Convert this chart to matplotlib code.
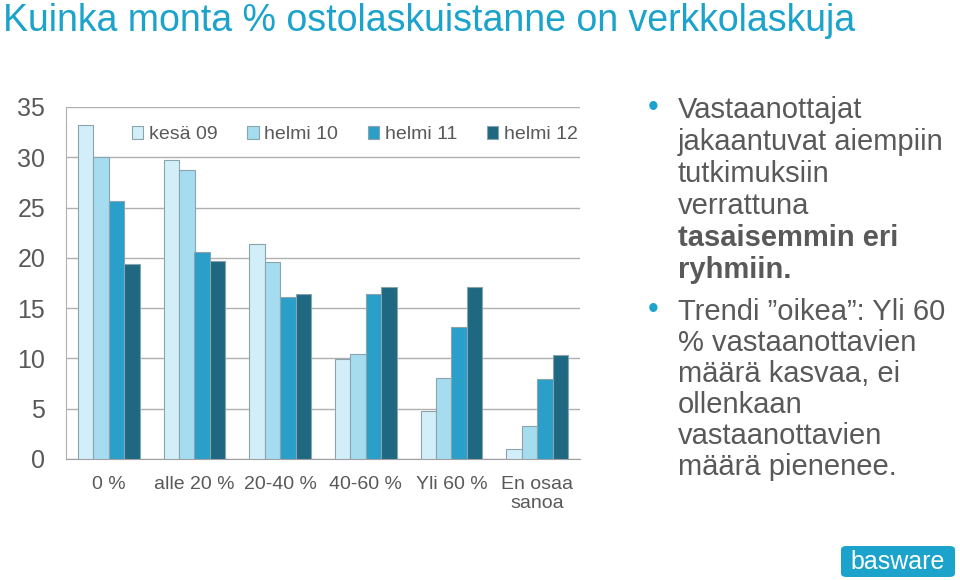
import numpy as np
import matplotlib.pyplot as plt
from matplotlib.patches import FancyBboxPatch

plt.rcParams['font.family'] = ['Liberation Sans', 'DejaVu Sans']

# categories and series
categories = ['0 %', 'alle 20 %', '20-40 %', '40-60 %', 'Yli 60 %', 'En osaa\nsanoa']
series_names = ['kesä 09', 'helmi 10', 'helmi 11', 'helmi 12']
kesa09 = [33.2, 29.7, 21.4, 9.9, 4.8, 1.0]
helmi10 = [30.0, 28.7, 19.6, 10.4, 8.1, 3.3]
helmi11 = [25.7, 20.6, 16.1, 16.4, 13.1, 8.0]
helmi12 = [19.4, 19.7, 16.4, 17.1, 17.1, 10.3]
colors = ['#d2eff9', '#a6dcf0', '#2a9fca', '#1e6882']

title = 'Kuinka monta % ostolaskuistanne on verkkolaskuja'
bullet1 = ['Vastaanottajat', 'jakaantuvat aiempiin', 'tutkimuksiin', 'verrattuna']
bullet1_bold = ['tasaisemmin eri', 'ryhmiin.']
bullet2 = ['Trendi \u201doikea\u201d: Yli 60', '% vastaanottavien', 'määrä kasvaa, ei',
           'ollenkaan', 'vastaanottavien', 'määrä pienenee.']

grey = '#595959'
blue = '#1ba3cc'

fig = plt.figure(figsize=(9.6, 5.8), dpi=100)
ax = fig.add_axes([66 / 960, 1 - 459 / 580, 514 / 960, 352 / 580])

x = np.arange(len(categories))
w = 0.18
for i, vals in enumerate([kesa09, helmi10, helmi11, helmi12]):
    ax.bar(x - 1.5 * w + i * w, vals, w, color=colors[i], edgecolor='#8aa4ad',
           linewidth=0.8, label=series_names[i], zorder=3)

ax.set_xlim(-0.5, 5.5)
ax.set_ylim(0, 35)
ax.set_yticks(range(0, 36, 5))
ax.yaxis.grid(True, color='#b0b0b0', linewidth=1, zorder=0)
ax.tick_params(axis='y', length=0, labelsize=18, labelcolor=grey, pad=15)
ax.set_xticks(x)
ax.set_xticklabels(categories)
ax.tick_params(axis='x', length=0, labelsize=14, labelcolor=grey, pad=12)
for s in ['top', 'right']:
    ax.spines[s].set_visible(False)
ax.spines['left'].set_color('#b0b0b0')
ax.spines['bottom'].set_color('#a0a0a0')

leg = ax.legend(ncol=4, loc='upper right', bbox_to_anchor=(1.03, 0.995), frameon=False,
                fontsize=14, handlelength=0.6, handleheight=0.6, handletextpad=0.3,
                columnspacing=1.5, labelcolor=grey)

fig.text(3 / 960, 1 - 31 / 580, title, fontsize=27, color=blue, va='baseline', ha='left')

# bullet text on the right
def line_y(py):
    return 1 - py / 580

fig.text(648 / 960, line_y(108), '\u2022', fontsize=22, color=blue, va='center')
ys = [110, 142, 174, 206]
for t, py in zip(bullet1, ys):
    fig.text(678 / 960, line_y(py), t, fontsize=21, color=grey, va='center')
for t, py in zip(bullet1_bold, [238, 270]):
    fig.text(678 / 960, line_y(py), t, fontsize=21, color=grey, va='center', fontweight='bold')

fig.text(648 / 960, line_y(310), '\u2022', fontsize=22, color=blue, va='center')
for t, py in zip(bullet2, [312, 343, 374, 405, 436, 467]):
    fig.text(678 / 960, line_y(py), t, fontsize=21, color=grey, va='center')

# logo
logo = FancyBboxPatch((841 / 960, 1 - 577 / 580), 114 / 960, 31 / 580,
                      boxstyle='round,pad=0,rounding_size=0.006',
                      transform=fig.transFigure, facecolor=blue, edgecolor='none')
fig.patches.append(logo)
fig.text(898 / 960, 1 - 562 / 580, 'basware', fontsize=18, color='white',
         ha='center', va='center')

fig.savefig('out.png', dpi=100)
